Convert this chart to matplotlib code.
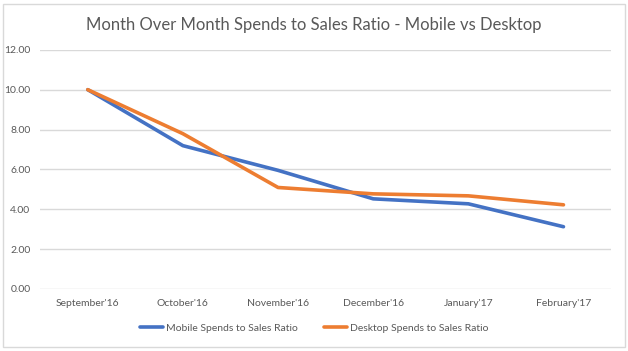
import matplotlib
matplotlib.use("Agg")
import matplotlib.pyplot as plt
from matplotlib.patches import Rectangle

months = ["September'16", "October'16", "November'16", "December'16", "January'17", "February'17"]
mobile = [10.0, 7.19, 5.95, 4.52, 4.27, 3.12]
desktop = [10.0, 7.79, 5.09, 4.77, 4.67, 4.22]

plt.rcParams["font.family"] = ["Lato", "DejaVu Sans"]

fig = plt.figure(figsize=(6.28, 3.51), dpi=100)
ax = fig.add_axes([0.064, 0.177, 0.909, 0.681])

x = list(range(len(months)))
ax.plot(x, mobile, color="#4472C4", lw=2.6, label="Mobile Spends to Sales Ratio", solid_capstyle="round")
ax.plot(x, desktop, color="#ED7D31", lw=2.6, label="Desktop Spends to Sales Ratio", solid_capstyle="round")

ax.set_xlim(-0.5, len(months) - 0.5)
ax.set_ylim(0, 12)
ax.set_yticks([0, 2, 4, 6, 8, 10, 12])
ax.set_yticklabels([f"{v:.2f}" for v in [0, 2, 4, 6, 8, 10, 12]])
ax.set_xticks(x)
ax.set_xticklabels(months)
ax.grid(axis="y", color="#D9D9D9", lw=1)
ax.set_axisbelow(True)
for s in ax.spines.values():
    s.set_visible(False)
ax.tick_params(length=0, labelsize=7.5, colors="#595959", pad=7)

fig.text(0.5, 0.928, "Month Over Month Spends to Sales Ratio - Mobile vs Desktop",
         ha="center", va="center", fontsize=12, color="#595959")

fig.legend(loc="center", bbox_to_anchor=(0.5, 0.065), ncol=2, frameon=False,
           fontsize=7.5, handlelength=2.2, handletextpad=0.3, columnspacing=2.5,
           labelcolor="#595959")

fig.patches.append(Rectangle((0.004, 0.01), 0.992, 0.98, transform=fig.transFigure,
                             fill=False, edgecolor="#D9D9D9", lw=1))

fig.savefig("out.png", dpi=100)
